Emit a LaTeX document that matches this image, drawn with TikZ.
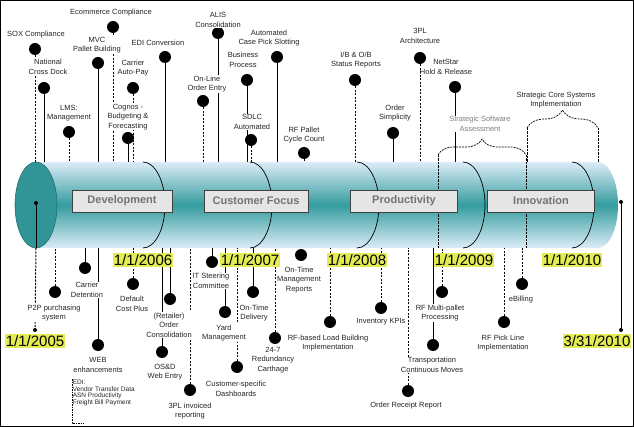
\documentclass[tikz,border=0pt]{standalone}
\usepackage{fontspec}
\setmainfont{Liberation Sans}
\usetikzlibrary{positioning,decorations.pathreplacing}

\definecolor{cylteal}{RGB}{52,156,158}
\definecolor{cyllight}{RGB}{220,236,248}
\definecolor{datefill}{RGB}{228,236,84}

\begin{document}
\begin{tikzpicture}[x=1pt,y=-1pt,
  ev/.style={circle,fill=black,minimum size=12pt,inner sep=0pt},
  tdot/.style={circle,fill=black,minimum size=4pt,inner sep=0pt},
  lbl/.style={fill=white,inner sep=0.6pt,align=center,font=\fontsize{7.5}{9.5}\selectfont,text=black!85},
  sl/.style={line width=0.8pt},
  dl/.style={line width=1pt,dash pattern=on 2.2pt off 1.3pt},
  phase/.style={draw=black!75,line width=0.8pt,fill=black!10,minimum width=104pt,minimum height=22pt,font=\bfseries\fontsize{11}{13}\selectfont,text=black!55},
  datebox/.style={fill=datefill,inner xsep=0.5pt,inner ysep=1pt,font=\fontsize{15}{16}\selectfont},
  brc/.style={line width=0.7pt,dash pattern=on 2pt off 1pt,decorate}]

\useasboundingbox (0,0) rectangle (634,427);
\draw[line width=1pt] (0.5,0.5) rectangle (633.5,426.5);
\coordinate (ctop) at (0,162);
\coordinate (cbot) at (0,248);

\shade[top color=cyllight,bottom color=cyllight,middle color=cylteal] (36,162) -- (598,162) arc (-90:90:20 and 43) -- (36,248) -- cycle;
\filldraw[fill=cylteal!95!black,draw=cylteal!70!black,line width=0.6pt] (36,205) ellipse (21 and 43);
\foreach \x in {143,250,357,463,572}
    \draw[line width=0.7pt] (\x,162) arc (-90:90:22 and 43);

\coordinate (sa1) at (438,155);
\coordinate (sa2) at (526,155);
\coordinate (sc1) at (527,128);
\coordinate (sc2) at (598,128);
\draw[brc,decoration={brace,amplitude=16pt}] (sa1) -- (sa2);
\draw[brc,decoration={brace,amplitude=18pt}] (sc1) -- (sc2);
\draw[dl] (sa1) -- (sa1 |- cbot);
\draw[dl] (sa2) -- (sa2 |- cbot);
\draw[dl] (sc1) -- (sc1 |- ctop);
\draw[dl] (sc2) -- (sc2 |- ctop);

\node[phase,minimum width=100pt] (dev) at (122,201) {Development};
\node[phase] (cust) at (256,201) {Customer Focus};
\node[phase,minimum width=107pt] (prod) at (404,201) {Productivity};
\node[phase,minimum width=107pt] (innov) at (541,201) {Innovation};

\node[ev] (sox) at (35,49) {};
\node[ev] (ncd) at (44,88) {};
\node[ev] (lms) at (69,132) {};
\node[ev] (mvc) at (98,63) {};
\node[ev] (ecom) at (113,27) {};
\node[ev] (cap) at (133,88) {};
\node[ev] (cog) at (128,138) {};
\node[ev] (edi) at (165,57) {};
\node[ev] (ole) at (203,101) {};
\node[ev] (alis) at (218,33) {};
\node[ev] (bp) at (247,80) {};
\node[ev] (sdlc) at (251,140) {};
\node[ev] (acps) at (277,57) {};
\node[ev] (rfpc) at (304,153) {};
\node[ev] (iob) at (355,80) {};
\node[ev] (ords) at (393,133) {};
\node[ev] (arch) at (420,58) {};
\node[ev] (nsh) at (455,87) {};

\node[ev] (p2p) at (55,292) {};
\node[ev] (cdet) at (85,268) {};
\node[ev] (web) at (98,345) {};
\node[ev] (dcp) at (133,284) {};
\node[ev] (roc) at (170,299) {};
\node[ev] (osd) at (162,352) {};
\node[ev] (itsc) at (212,262) {};
\node[ev] (tpl) at (190,390) {};
\node[ev] (yard) at (225,312) {};
\node[ev] (otd) at (253,292) {};
\node[ev] (csd) at (237,367) {};
\node[ev] (rdc) at (275,338) {};
\node[ev] (otmr) at (301,255) {};
\node[ev] (rflb) at (330,322) {};
\node[ev] (ikpi) at (381,308) {};
\node[ev] (orr) at (408,391) {};
\node[ev] (tcm) at (433,345) {};
\node[ev] (rfmp) at (442,292) {};
\node[ev] (rfpl) at (504,322) {};
\node[ev] (ebil) at (522,284) {};

\foreach \n in {ncd,mvc,cog,edi,alis,bp,acps,ords,nsh}
    \draw[sl] (\n) -- (\n |- ctop);
\foreach \n in {sox,lms,ecom,cap,ole,sdlc,rfpc,iob,arch}
    \draw[dl] (\n) -- (\n |- ctop);
\foreach \n in {cdet,web,roc,osd,itsc,yard,otd,tcm}
    \draw[sl] (\n) -- (\n |- cbot);
\foreach \n in {p2p,dcp,tpl,csd,rdc,rflb,ikpi,orr,rfmp,rfpl,ebil}
    \draw[dl] (\n) -- (\n |- cbot);

\node[tdot] (lstart) at (36,203) {};
\node[tdot] (lend) at (35,330) {};
\draw[sl] (lstart) -- (lstart |- cbot);
\draw[dl] (lstart |- cbot) -- (lend);
\node[tdot] (rstart) at (621,202) {};
\node[tdot] (rend) at (621,330) {};
\draw[sl] (rstart) -- (rend);

\node[lbl] (soxt) at (36,35) {SOX Compliance};
\node[lbl] (ncdt) at (48,67) {National\\Cross Dock};
\node[lbl] (lmst) at (69,113) {LMS:\\Management};
\node[lbl] (mvct) at (97,45) {MVC\\Pallet Building};
\node[lbl] (ecomt) at (111,13) {Ecommerce Compliance};
\node[lbl] (capt) at (133,68) {Carrier\\Auto-Pay};
\node[lbl] (cogt) at (128,117) {Cognos -\\Budgeting \&\\Forecasting};
\node[lbl] (edit) at (158,43) {EDI Conversion};
\node[lbl] (olet) at (207,84) {On-Line\\Order Entry};
\node[lbl] (alist) at (218,20) {ALIS\\Consolidation};
\node[lbl] (bpt) at (243,60) {Business\\Process};
\node[lbl] (sdlct) at (252,122) {SDLC\\Automated};
\node[lbl] (acpst) at (269,38) {Automated\\Case Pick Slotting};
\node[lbl] (rfpct) at (304,135) {RF Pallet\\Cycle Count};
\node[lbl] (iobt) at (356,60) {I/B \& O/B\\Status Reports};
\node[lbl] (ordst) at (395,113) {Order\\Simplicity};
\node[lbl] (archt) at (420,36) {3PL\\Architecture};
\node[lbl,fill=none] (nsht) at (446,67) {NetStar\\Hold \& Release};
\node[lbl,text=black!50] (ssat) at (480,124) {Strategic Software\\Assessment};
\node[lbl] (scsit) at (556,100) {Strategic Core Systems\\Implementation};

\node[lbl] (p2pt) at (54,313) {P2P purchasing\\system};
\node[lbl] (cdett) at (87,290) {Carrier\\Detention};
\node[lbl] (webt) at (98,365) {WEB\\enhancements};
\node[lbl,align=left,anchor=north west,font=\fontsize{6.5}{6.8}\selectfont] (edibt) at (72,379) {EDI:\\Vendor Transfer Data\\ASN Productivity\\Freight Bill Payment};
\draw[line width=0.9pt,dash pattern=on 1.5pt off 1pt] (edibt.north west) -- (edibt.north west |- 0,423) -- ++(12,0);
\node[lbl] (dcpt) at (132,304) {Default\\Cost Plus};
\node[lbl] (roct) at (169,325) {(Retailer)\\Order\\Consolidation};
\node[lbl] (osdt) at (165,372) {OS\&D\\Web Entry};
\node[lbl] (itsct) at (211,281) {IT Steering\\Committee};
\node[lbl] (tplt) at (190,411) {3PL invoiced\\reporting};
\node[lbl] (yardt) at (224,333) {Yard\\Management};
\node[lbl] (otdt) at (254,313) {On-Time\\Delivery};
\node[lbl] (csdt) at (236,389) {Customer-specific\\Dashboards};
\node[lbl] (rdct) at (273,360) {24-7\\Redundancy\\Carthage};
\node[lbl] (otmrt) at (299,280) {On-Time\\Management\\Reports};
\node[lbl] (rflbt) at (328,343) {RF-based Load Building\\Implementation};
\node[lbl] (ikpit) at (381,322) {Inventory KPIs};
\node[lbl] (orrt) at (406,406) {Order Receipt Report};
\node[lbl] (tcmt) at (432,365) {Transportation\\Continuous Moves};
\node[lbl] (rfmpt) at (440,313) {RF Multi-pallet\\Processing};
\node[lbl] (rfplt) at (503,343) {RF Pick Line\\Implementation};
\node[lbl] (ebilt) at (521,300) {eBilling};

\foreach \x/\y in {143/2006,250/2007,357/2008,464/2009,572/2010}
    \node[datebox] (d\y) at (\x,260) {1/1/\y};
\node[datebox] (d2005) at (35,341) {1/1/2005};
\node[datebox] (dend) at (597,341) {3/31/2010};
\end{tikzpicture}
\end{document}
